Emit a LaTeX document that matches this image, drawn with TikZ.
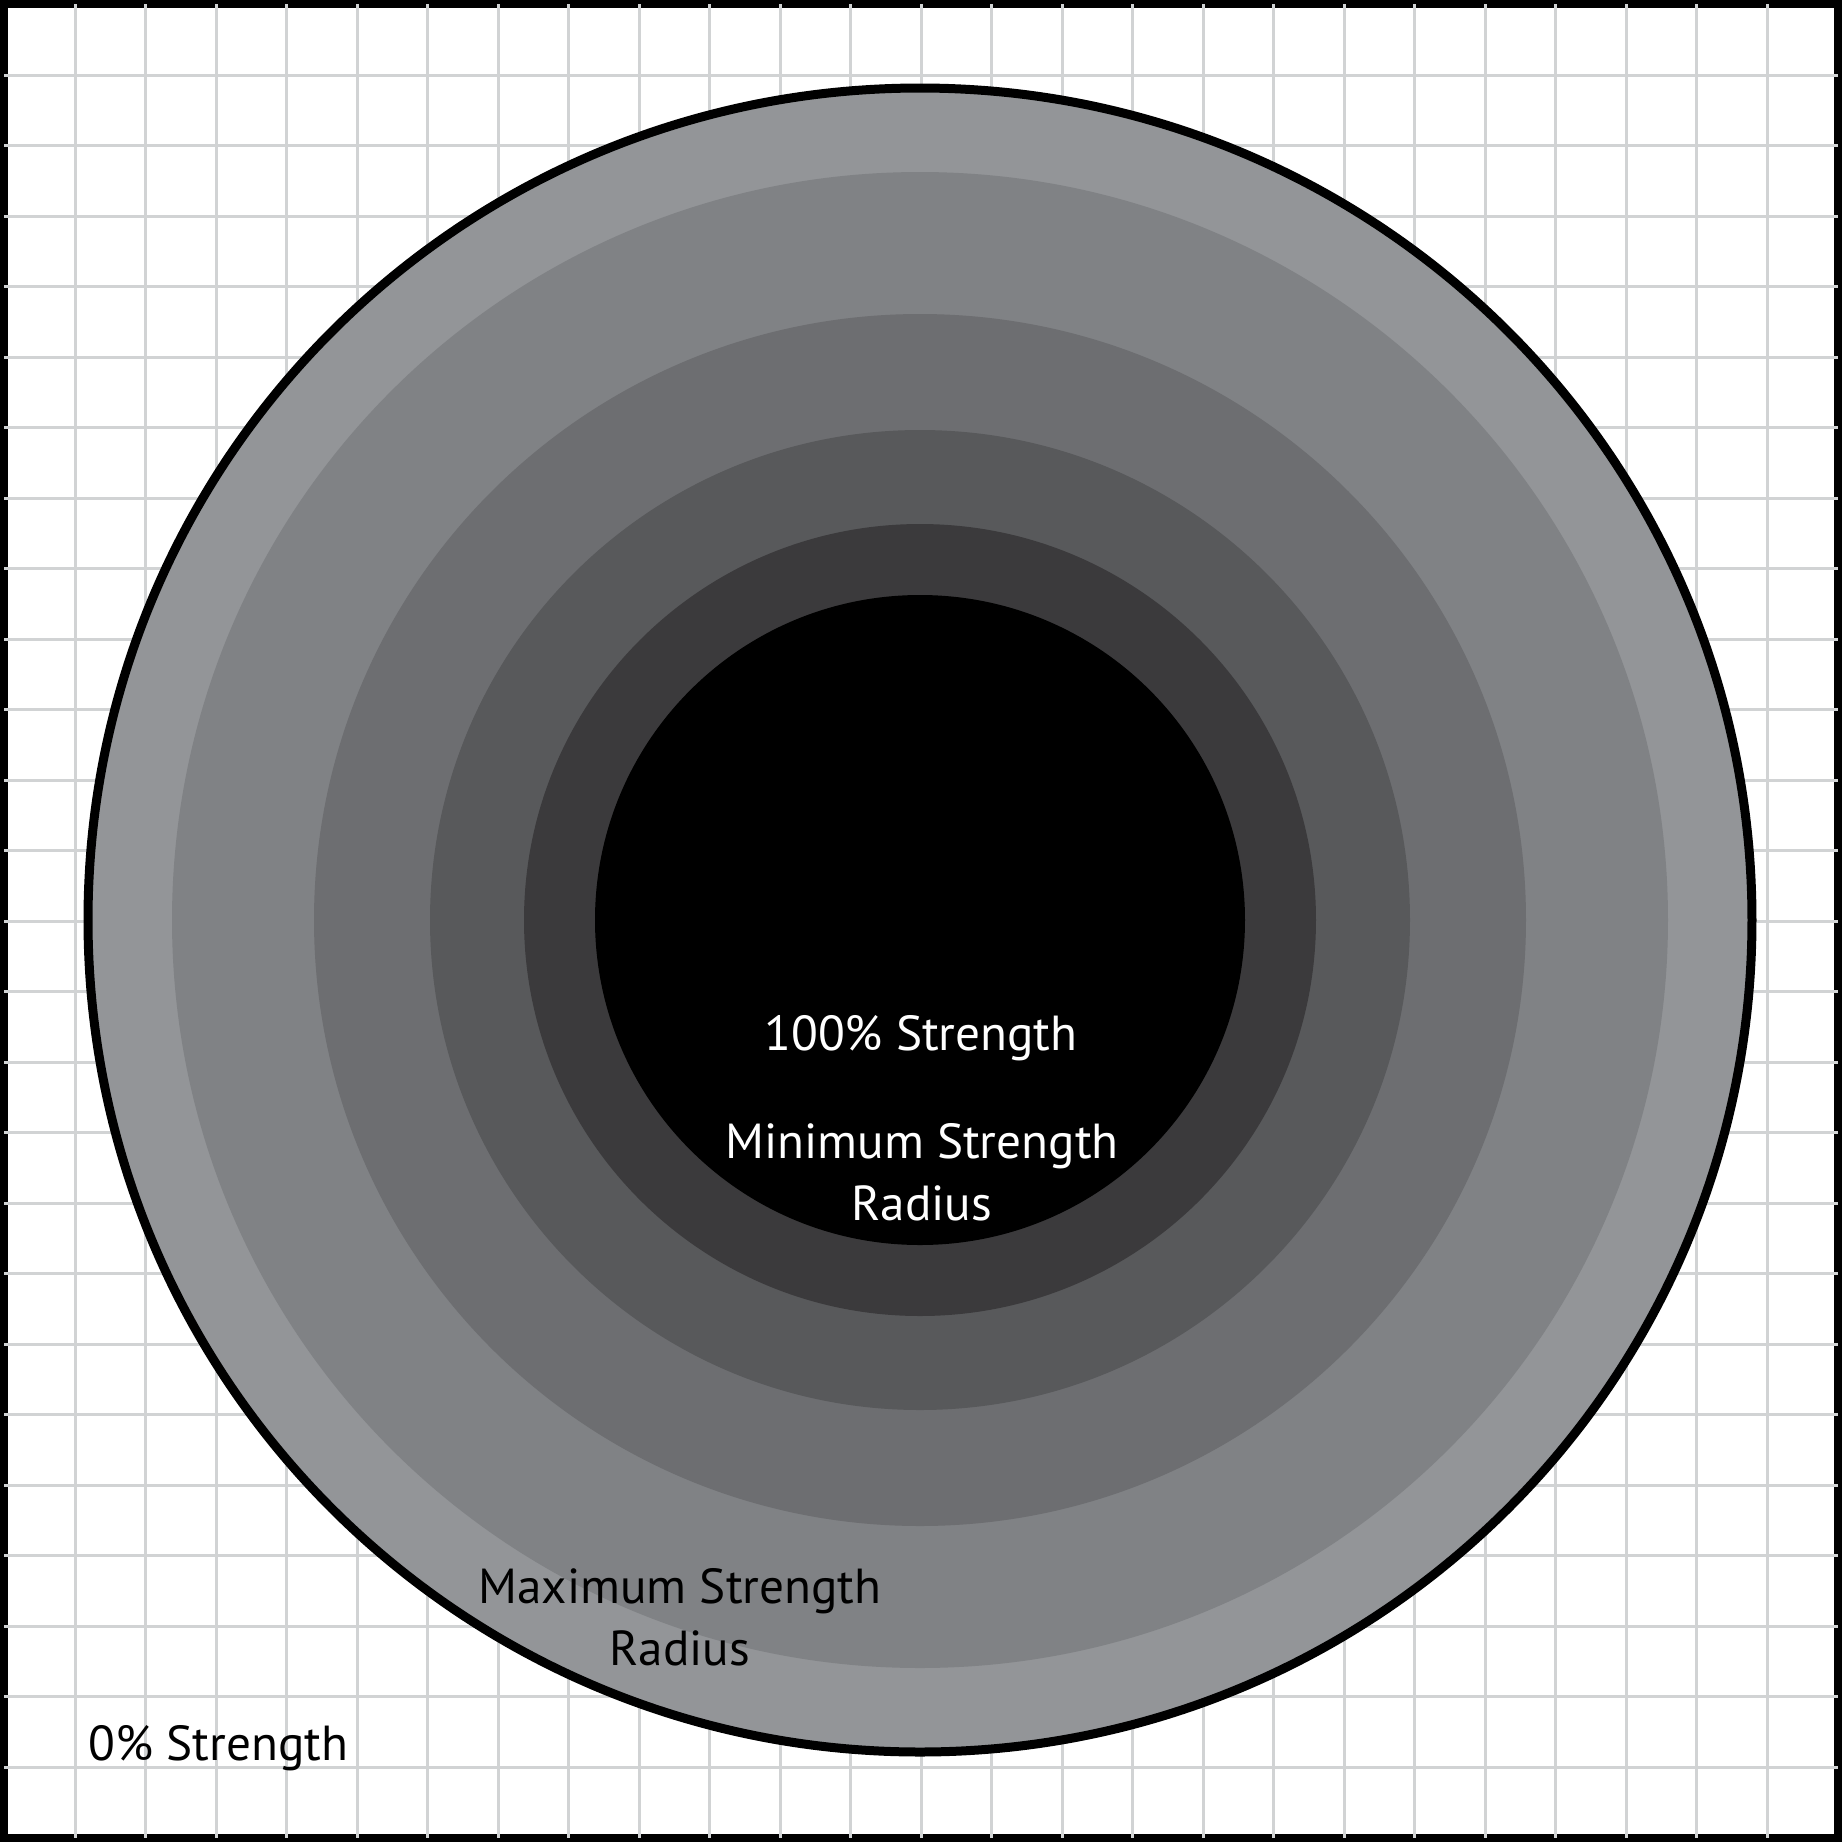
\documentclass[tikz,border=0pt]{standalone}
\usepackage{fontspec}
\setmainfont{PT Sans}
\usetikzlibrary{positioning}
\definecolor{fsGrid}{HTML}{D1D3D4}
\definecolor{fsRingA}{HTML}{939598}
\definecolor{fsRingB}{HTML}{808285}
\definecolor{fsRingC}{HTML}{6D6E71}
\definecolor{fsRingD}{HTML}{58595B}
\definecolor{fsRingE}{HTML}{3B3A3C}
\tikzset{
  gridline/.style={draw=fsGrid, line width=0.3mm},
  frame/.style={draw=black, line width=0.8mm},
  outerring/.style={fill=fsRingA, draw=black, line width=0.9mm},
  lbl/.style={font=\fontsize{14}{17.6}\selectfont, anchor=base, inner sep=0pt, align=center}
}
\begin{document}
\begin{tikzpicture}[x=0.1mm, y=-0.1mm]
  \useasboundingbox (0,0) rectangle (1842,1842);
  \fill[white] (0,0) rectangle (1842,1842);
  \coordinate (ctr) at (920,920);
  % frame and grid
  \draw[frame] (4,4) rectangle (1838,1838);
  \foreach \k in {0,...,24}{
    \draw[gridline] ({75+70.5*\k},4) -- ({75+70.5*\k},1838);
    \draw[gridline] (4,{75+70.5*\k}) -- (1838,{75+70.5*\k});
  }
  % strength rings
  \draw[outerring] (ctr) circle[radius=83.2mm];
  \foreach \r/\c in {74.8/fsRingB, 60.6/fsRingC, 49.0/fsRingD, 39.6/fsRingE, 32.5/black}
    \fill[\c] (ctr) circle[radius=\r mm];
  % labels (base = last line)
  \node[lbl, text=white] (full) at (921,1050) {100\% Strength};
  \node[lbl, text=white] (minr) at (922,1220) {Minimum Strength\\Radius};
  \node[lbl] (maxr) at (680,1665) {Maximum Strength\\Radius};
  \node[lbl, anchor=base west] (zero) at (88,1760) {0\% Strength};
\end{tikzpicture}
\end{document}
